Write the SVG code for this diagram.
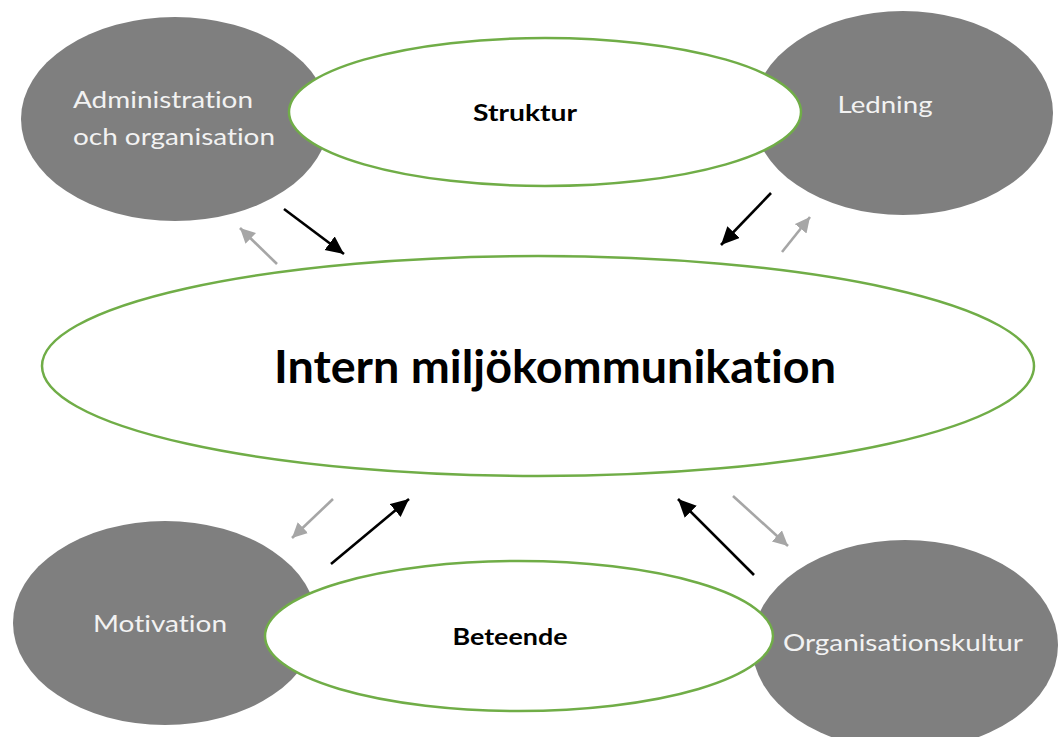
<svg xmlns="http://www.w3.org/2000/svg" width="1058" height="737" viewBox="0 0 1058 737">
  <style>
    .outer { fill: #7f7f7f; stroke: none; }
    .inner { fill: #ffffff; stroke: #70ad47; stroke-width: 2.5; }
    text { font-variant-ligatures: none; font-feature-settings: "liga" 0, "clig" 0; }
    .outer-label { font-family: Lato, "Open Sans", "Liberation Sans", sans-serif; font-size: 23px; fill: #f2f2f2; }
    .inner-label { font-family: Lato, "Open Sans", "Liberation Sans", sans-serif; font-weight: bold; fill: #000000; }
    .dark { stroke: #000000; stroke-width: 2.6; fill: none; }
    .light { stroke: #a6a6a6; stroke-width: 2.6; fill: none; }
  </style>
  <defs>
    <marker id="head-dark" markerUnits="userSpaceOnUse" markerWidth="22" markerHeight="20" refX="18" refY="8.5" orient="auto">
      <path d="M0,0 L18,8.5 L0,17 Z" fill="#000000"/>
    </marker>
    <marker id="head-light" markerUnits="userSpaceOnUse" markerWidth="18" markerHeight="18" refX="15" refY="7.5" orient="auto">
      <path d="M0,0 L15,7.5 L0,15 Z" fill="#a6a6a6"/>
    </marker>
  </defs>
  <rect width="1058" height="737" fill="#ffffff"/>

  <!-- outer factors -->
  <g id="administration">
    <ellipse class="outer" cx="175" cy="119" rx="154" ry="102"/>
    <text class="outer-label" x="73" y="108" textLength="180" lengthAdjust="spacingAndGlyphs">Administration</text>
    <text class="outer-label" x="73" y="145" textLength="202" lengthAdjust="spacingAndGlyphs">och organisation</text>
  </g>
  <g id="ledning">
    <ellipse class="outer" cx="903" cy="113" rx="150" ry="102"/>
    <text class="outer-label" x="885" y="113" text-anchor="middle" textLength="95" lengthAdjust="spacingAndGlyphs">Ledning</text>
  </g>
  <g id="motivation">
    <ellipse class="outer" cx="165" cy="623" rx="152" ry="102"/>
    <text class="outer-label" x="160" y="632" text-anchor="middle" textLength="134" lengthAdjust="spacingAndGlyphs">Motivation</text>
  </g>
  <g id="organisationskultur">
    <ellipse class="outer" cx="905" cy="645" rx="153" ry="105"/>
    <text class="outer-label" x="903" y="651" text-anchor="middle" textLength="240" lengthAdjust="spacingAndGlyphs">Organisationskultur</text>
  </g>

  <!-- inner themes -->
  <g id="struktur">
    <ellipse class="inner" cx="545" cy="112" rx="256" ry="74"/>
    <text class="inner-label" x="525" y="121" text-anchor="middle" font-size="23" textLength="104" lengthAdjust="spacingAndGlyphs">Struktur</text>
  </g>
  <g id="beteende">
    <ellipse class="inner" cx="519" cy="636" rx="254" ry="75"/>
    <text class="inner-label" x="510" y="645" text-anchor="middle" font-size="23" textLength="115" lengthAdjust="spacingAndGlyphs">Beteende</text>
  </g>
  <g id="intern-miljokommunikation">
    <ellipse class="inner" cx="538" cy="366" rx="496" ry="110"/>
    <text class="inner-label" x="555" y="383" text-anchor="middle" font-size="46" textLength="562" lengthAdjust="spacingAndGlyphs">Intern miljökommunikation</text>
  </g>

  <!-- influence arrows -->
  <g id="connectors">
    <line class="dark" x1="284" y1="209" x2="344" y2="254" marker-end="url(#head-dark)"/>
    <line class="light" x1="277" y1="264" x2="240" y2="228" marker-end="url(#head-light)"/>
    <line class="dark" x1="771" y1="193" x2="721" y2="245" marker-end="url(#head-dark)"/>
    <line class="light" x1="782" y1="252" x2="810" y2="217" marker-end="url(#head-light)"/>
    <line class="light" x1="333" y1="499" x2="292" y2="538" marker-end="url(#head-light)"/>
    <line class="dark" x1="331" y1="564" x2="409" y2="499" marker-end="url(#head-dark)"/>
    <line class="dark" x1="754" y1="575" x2="678" y2="499" marker-end="url(#head-dark)"/>
    <line class="light" x1="733" y1="496" x2="788" y2="546" marker-end="url(#head-light)"/>
  </g>
</svg>
